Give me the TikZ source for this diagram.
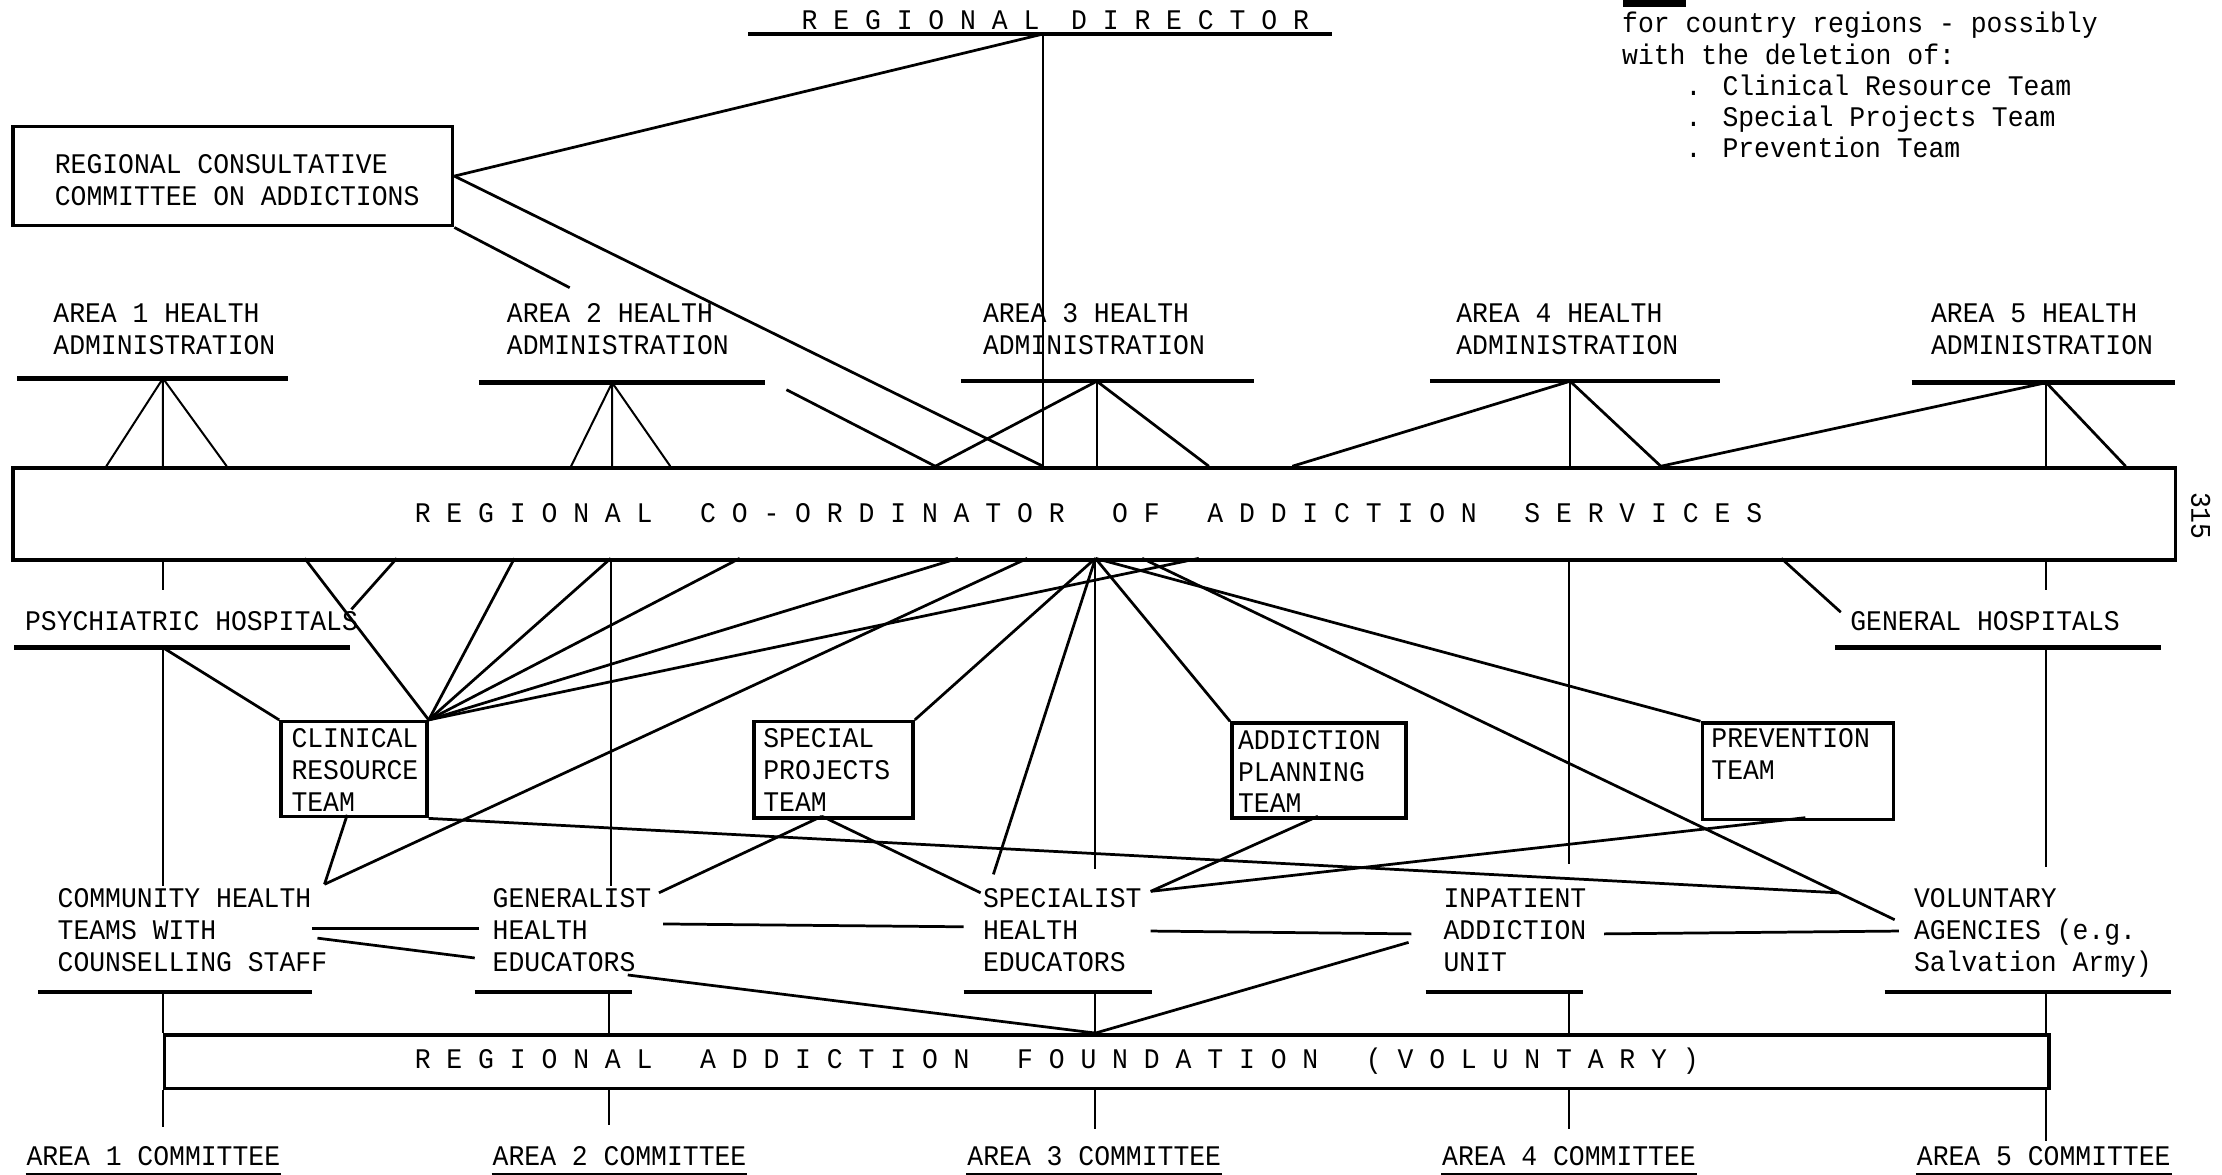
\documentclass[tikz,border=0pt]{standalone}
\usepackage{fontspec}
\newfontfamily\tw[FakeStretch=0.93]{Liberation Mono}
\begin{document}
\begin{tikzpicture}[x=0.01cm,y=-0.01cm,
  tx/.style={font={\tw\fontsize{5.7pt}{6.4pt}\selectfont}, align=left, inner sep=0pt, anchor=north west},
  bx/.style={draw, line width=0.7pt, inner sep=0pt, anchor=north west},
  ln/.style={line width=0.55pt},
  vl/.style={line width=0.4pt},
  ul/.style={line width=0.9pt}]
\useasboundingbox (0,0) rectangle (1568,829);

% ---------- note ----------
\fill (1145,0) rectangle (1190,5);
\node[tx, font={\tw\fontsize{5.7pt}{6.26pt}\selectfont}] (note) at (1144,8)
  {for country regions - possibly\\with the deletion of:\\\phantom{xxxx}. Clinical Resource Team\\\phantom{xxxx}. Special Projects Team\\\phantom{xxxx}. Prevention Team};

% ---------- director ----------
\node[tx, anchor=base west] (dir) at (565,20.5) {R~E~G~I~O~N~A~L~~D~I~R~E~C~T~O~R};
\coordinate (dirL) at (528,24); \coordinate (dirR) at (940,24); \coordinate (dirJ) at (736,24);
\draw[ul] (dirL) -- (dirR);

% ---------- consultative committee ----------
\node[bx, minimum width=3.10cm, minimum height=0.70cm] (com) at (8,88) {};
\node[tx] (comt) at (38,108.5) {REGIONAL CONSULTATIVE\\COMMITTEE ON ADDICTIONS};

% ---------- co-ordinator ----------
\node[bx, minimum width=15.25cm, minimum height=0.65cm] (co) at (8,329) {};
\node[tx, anchor=west] (cot) at (292,362) {R~E~G~I~O~N~A~L~~~C~O~-~O~R~D~I~N~A~T~O~R~~~O~F~~~A~D~D~I~C~T~I~O~N~~~S~E~R~V~I~C~E~S};
\node[tx, anchor=center, rotate=-90] (pg) at (1553,364) {315};

% ---------- area health administrations ----------
\node[tx] (h1) at (37,213.5)   {AREA 1 HEALTH\\ADMINISTRATION};
\node[tx] (h2) at (357,213.5)  {AREA 2 HEALTH\\ADMINISTRATION};
\node[tx] (h3) at (693,213.5)  {AREA 3 HEALTH\\ADMINISTRATION};
\node[tx] (h4) at (1027,213.5) {AREA 4 HEALTH\\ADMINISTRATION};
\node[tx] (h5) at (1362,213.5) {AREA 5 HEALTH\\ADMINISTRATION};

\coordinate (u1l) at (12,267);   \coordinate (u1r) at (203,267);  \coordinate (ap1) at (115,267);
\coordinate (u2l) at (338,270);  \coordinate (u2r) at (540,270);  \coordinate (ap2) at (432,270);
\coordinate (u3l) at (678,269);  \coordinate (u3r) at (885,269);  \coordinate (ap3) at (774,269);
\coordinate (u4l) at (1009,269); \coordinate (u4r) at (1214,269); \coordinate (ap4) at (1108,269);
\coordinate (u5l) at (1349,270); \coordinate (u5r) at (1535,270); \coordinate (ap5) at (1444,270);
\foreach \i in {1,...,5} {\draw[ul] (u\i l) -- (u\i r);}

% feet on top of co-ordinator
\coordinate (t1a) at (75,329);  \coordinate (t1b) at (115,329); \coordinate (t1c) at (160,329);
\coordinate (t2a) at (403,329); \coordinate (t2b) at (432,329); \coordinate (t2c) at (473,329);
\coordinate (t3a) at (660,329); \coordinate (t3b) at (774,329); \coordinate (t3c) at (853,329);
\coordinate (t4a) at (912,329); \coordinate (t4b) at (1108,329); \coordinate (t4c) at (1172,329);
\coordinate (t5b) at (1444,329); \coordinate (t5c) at (1500,329);
\coordinate (t0) at (736,329);

\draw[vl] (ap1) -- (t1a) (ap1) -- (t1b) (ap1) -- (t1c);
\draw[vl] (ap2) -- (t2a) (ap2) -- (t2b) (ap2) -- (t2c);
\draw[ln] (ap3) -- (t3a) (ap3) -- (t3c); \draw[vl] (ap3) -- (t3b);
\draw[ln] (ap4) -- (t4a) (ap4) -- (t4c); \draw[vl] (ap4) -- (t4b);
\draw[ln] (ap5) -- (t4c) (ap5) -- (t5c); \draw[vl] (ap5) -- (t5b);

% director links
\draw[ln] (dirJ) -- (com.east);
\draw[vl] (dirJ) -- (t0);
\draw[ln] (com.east) -- (t0);
\coordinate (gapA) at (402,203); \coordinate (gapB) at (555,275);
\draw[ln] (com.south east) -- (gapA);
\draw[ln] (gapB) -- (t3a);

% ---------- bottom of co-ordinator ----------
\coordinate (b1) at (115,394);  \coordinate (bPs) at (215,394); \coordinate (bPs2) at (280,394);
\coordinate (bC1) at (363,394); \coordinate (b2) at (431,394);  \coordinate (bC2) at (522,394);
\coordinate (bC3) at (676,394); \coordinate (bCH) at (725,394); \coordinate (hub) at (773,394);
\coordinate (bV) at (806,394);  \coordinate (bC4) at (846,394); \coordinate (b4) at (1107,394);
\coordinate (bGH) at (1257,394); \coordinate (b5) at (1444,394);

% hospitals
\node[tx] (ps) at (17,430.5) {PSYCHIATRIC HOSPITALS};
\node[tx] (gh) at (1305,430.5) {GENERAL HOSPITALS};
\coordinate (p1s) at (115,416); \coordinate (psEnd) at (248,430);
\coordinate (psL) at (10,457); \coordinate (psR) at (247,457); \coordinate (psJ) at (115,457);
\coordinate (g5s) at (1444,416); \coordinate (ghEnd) at (1299,432);
\coordinate (ghL) at (1295,457); \coordinate (ghR) at (1525,457); \coordinate (ghJ) at (1444,457);
\draw[ul] (psL) -- (psR); \draw[ul] (ghL) -- (ghR);
\draw[vl] (b1) -- (p1s); \draw[vl] (b5) -- (g5s);
\draw[ln] (bPs2) -- (psEnd); \draw[ln] (bGH) -- (ghEnd);

% teams
\node[bx, minimum width=1.03cm, minimum height=0.67cm] (cl) at (197,508) {};
\node[bx, minimum width=1.12cm, minimum height=0.68cm] (sp) at (531,508) {};
\node[bx, minimum width=1.23cm, minimum height=0.67cm] (apt) at (868,509) {};
\node[bx, minimum width=1.35cm, minimum height=0.68cm] (pv) at (1200,509) {};
\node[tx] (clt) at (205,513.5) {CLINICAL\\RESOURCE\\TEAM};
\node[tx] (spt) at (538,513.5) {SPECIAL\\PROJECTS\\TEAM};
\node[tx] (aptt) at (873,514.5) {ADDICTION\\PLANNING\\TEAM};
\node[tx] (pvt) at (1207,513.5) {PREVENTION\\TEAM};
\coordinate (clBot) at (245,575); \coordinate (spBot) at (580,576);
\coordinate (aptBot) at (930,576); \coordinate (pvBot) at (1274,577);

% agencies row
\node[tx] (cm) at (40,626.5)   {COMMUNITY HEALTH\\TEAMS WITH\\COUNSELLING STAFF};
\node[tx] (ge) at (347,626.5)  {GENERALIST\\HEALTH\\EDUCATORS};
\node[tx] (se) at (693,626.5)  {SPECIALIST\\HEALTH\\EDUCATORS};
\node[tx] (ip) at (1018,626.5) {INPATIENT\\ADDICTION\\UNIT};
\node[tx] (vo) at (1350,626.5) {VOLUNTARY\\AGENCIES (e.g.\\Salvation Army)};

\coordinate (chJ) at (229,624);  \coordinate (v1top) at (115,625); \coordinate (v2top) at (431,625);
\coordinate (hubEnd) at (773,613); \coordinate (spcD) at (701,617); \coordinate (v4top) at (1107,610);
\coordinate (v5top) at (1444,612); \coordinate (spcR) at (812,629); \coordinate (genTR) at (465,630);
\coordinate (spcTL) at (692,630); \coordinate (volA) at (1337,649); \coordinate (volB) at (1297,630);

% links to coordinator / teams
\draw[ln] (bPs) -- (cl.north east);
\draw[ln] (psJ) -- (cl.north west);
\draw[vl] (psJ) -- (v1top);
\foreach \e in {bC1,b2,bC2,bC3,bC4} {\draw[ln] (cl.north east) -- (\e);}
\draw[vl] (b2) -- (v2top);
\draw[ln] (bCH) -- (chJ);
\draw[ln] (clBot) -- (chJ);
\draw[ln] (hub) -- (sp.north east);
\draw[ln] (hub) -- (spcD);
\draw[vl] (hub) -- (hubEnd);
\draw[ln] (hub) -- (apt.north west);
\draw[ln] (hub) -- (pv.north west);
\draw[ln] (bV) -- (volA);
\draw[vl] (b4) -- (v4top);
\draw[vl] (ghJ) -- (v5top);
\draw[ln] (cl.south east) -- (volB);
\draw[ln] (spBot) -- (genTR);
\draw[ln] (spBot) -- (spcTL);
\draw[ln] (aptBot) -- (spcR);
\draw[ln] (pvBot) -- (spcR);

% horizontal links in the row
\coordinate (r1a) at (220,655); \coordinate (r1b) at (338,655);
\coordinate (r2a) at (224,662); \coordinate (r2b) at (335,676);
\coordinate (r3a) at (468,652); \coordinate (r3b) at (680,654);
\coordinate (r4a) at (812,657); \coordinate (r4b) at (996,659);
\coordinate (r5a) at (1132,659); \coordinate (r5b) at (1340,657);
\coordinate (r6a) at (994,665); \coordinate (r7a) at (443,688);
\coordinate (fnHub) at (773,729);
\draw[ln] (r1a) -- (r1b); \draw[ln] (r2a) -- (r2b); \draw[ln] (r3a) -- (r3b);
\draw[ln] (r4a) -- (r4b); \draw[ln] (r5a) -- (r5b);
\draw[ln] (r6a) -- (fnHub); \draw[ln] (r7a) -- (fnHub);

% underlines of row
\coordinate (cmL) at (27,700);  \coordinate (cmR) at (220,700);
\coordinate (geL) at (335,700); \coordinate (geR) at (446,700);
\coordinate (seL) at (680,700); \coordinate (seR) at (813,700);
\coordinate (ipL) at (1006,700); \coordinate (ipR) at (1117,700);
\coordinate (voL) at (1330,700); \coordinate (voR) at (1532,700);
\draw[ul] (cmL) -- (cmR); \draw[ul] (geL) -- (geR); \draw[ul] (seL) -- (seR);
\draw[ul] (ipL) -- (ipR); \draw[ul] (voL) -- (voR);

% foundation
\node[bx, minimum width=13.29cm, minimum height=0.38cm] (fn) at (115,729) {};
\node[tx, anchor=west] (fnt) at (292,749) {R~E~G~I~O~N~A~L~~~A~D~D~I~C~T~I~O~N~~~F~O~U~N~D~A~T~I~O~N~~~(~V~O~L~U~N~T~A~R~Y~)};

% committees
\node[tx] (c1) at (18,808.5)   {AREA 1 COMMITTEE};
\node[tx] (c2) at (347,808.5)  {AREA 2 COMMITTEE};
\node[tx] (c3) at (682,808.5)  {AREA 3 COMMITTEE};
\node[tx] (c4) at (1017,808.5) {AREA 4 COMMITTEE};
\node[tx] (c5) at (1352,808.5) {AREA 5 COMMITTEE};
\foreach \c in {c1,c2,c3,c4,c5} {\draw[ul] ([yshift=-1.6pt]\c.south west) -- ([yshift=-1.6pt]\c.south east);}

\coordinate (k1a) at (115,700); \coordinate (k1b) at (115,795);
\coordinate (k2a) at (430,700); \coordinate (k2b) at (430,794);
\coordinate (k3a) at (773,700); \coordinate (k3b) at (773,797);
\coordinate (k4a) at (1107,700); \coordinate (k4b) at (1107,797);
\coordinate (k5a) at (1444,700); \coordinate (k5b) at (1444,805);
\foreach \i in {1,...,5} {\draw[vl] (k\i a) -- (k\i a |- fn.north) (k\i b |- fn.south) -- (k\i b);}
\end{tikzpicture}
\end{document}
